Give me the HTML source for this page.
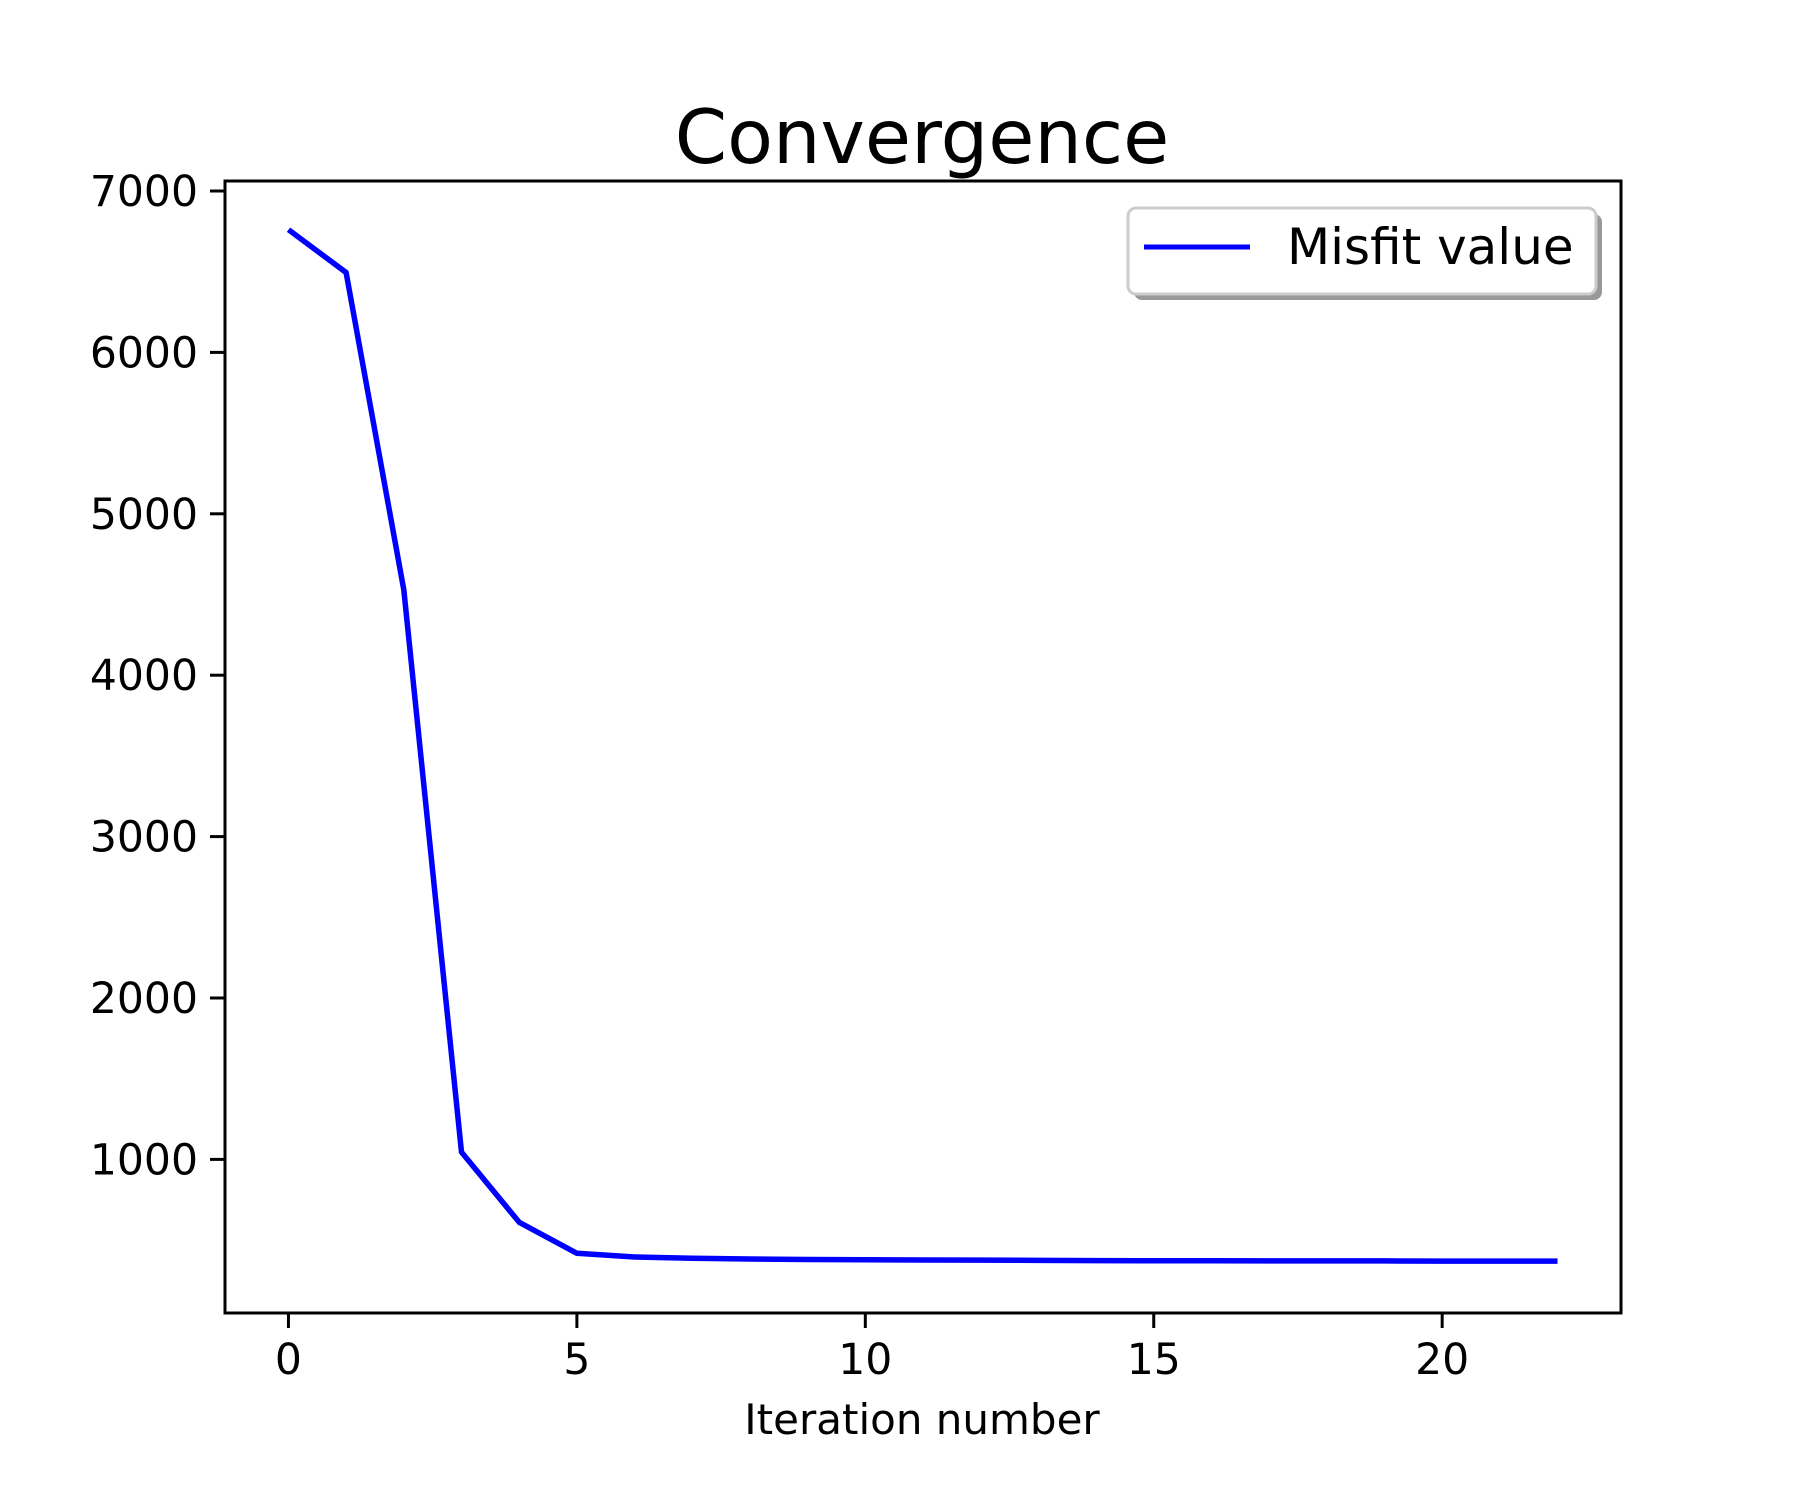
<!DOCTYPE html>
<html><head><meta charset="utf-8"><style>
html,body{margin:0;padding:0;background:#fff;}
svg text{font-family:"DejaVu Sans","Liberation Sans",sans-serif;}
</style></head><body>
<svg id="chart" width="1800" height="1500" viewBox="0 0 1800 1500" xmlns="http://www.w3.org/2000/svg">
<rect width="1800" height="1500" fill="#fff"/>
<text x="922" y="163" font-size="75" text-anchor="middle">Convergence</text>
<g id="plot"></g>
<text x="922" y="1434" font-size="42" text-anchor="middle">Iteration number</text>
<g>
<rect x="1134" y="214" width="468" height="86" rx="8" fill="#999"/>
<rect x="1128" y="208" width="468" height="86" rx="8" fill="#fff" stroke="#ccc" stroke-width="3"/>
<line x1="1144" y1="247" x2="1250" y2="247" stroke="#0000ff" stroke-width="5"/>
<text x="1287" y="264" font-size="50">Misfit value</text>
</g>
</svg>
<script>
const iterations = [0,1,2,3,4,5,6,7,8,9,10,11,12,13,14,15,16,17,18,19,20,21,22];
const misfit = [6760,6495,4530,1045,610,418,395,388,383,380,378,377,376,374,373,372,372,371,371,371,370,370,370];
const xTicks = [0,5,10,15,20];
const yTicks = [1000,2000,3000,4000,5000,6000,7000];
const L=225,R=1621,T=181,B=1313;
const xmin=-1.1,xmax=23.1;
const y7000=191,perK=161.4;
const ymax=7000+(y7000-T)/perK*1000, ymin=7000-(B-y7000)/perK*1000;
const sx=v=>L+(v-xmin)/(xmax-xmin)*(R-L);
const sy=v=>B-(v-ymin)/(ymax-ymin)*(B-T);
const NS='http://www.w3.org/2000/svg';
const g=document.getElementById('plot');
function mk(t,a){const e=document.createElementNS(NS,t);for(const k in a)e.setAttribute(k,a[k]);g.appendChild(e);return e;}
const pts=iterations.map((x,i)=>sx(x).toFixed(1)+','+sy(misfit[i]).toFixed(1)).join(' ');
const line=mk('polyline',{points:pts,fill:'none',stroke:'#0000ff','stroke-width':5.5,'stroke-linejoin':'round'});


xTicks.forEach(v=>{
  const x=sx(v);
  const tk=mk('line',{x1:x,y1:B,x2:x,y2:B+15,stroke:'#000','stroke-width':3});
  
  
  const t=mk('text',{x:x,y:1374,'font-size':42.5,'text-anchor':'middle'});
  t.textContent=v;
  
  
});
yTicks.forEach(v=>{
  const y=sy(v);
  const tk=mk('line',{x1:L-15,y1:y,x2:L,y2:y,stroke:'#000','stroke-width':3});
  
  
  const t=mk('text',{x:L-27,y:y+15,'font-size':42.5,'text-anchor':'end'});
  t.textContent=v;
  
  
});
const fr=mk('rect',{x:L,y:T,width:R-L,height:B-T,fill:'none',stroke:'#000','stroke-width':3});


</script>
</body></html>
